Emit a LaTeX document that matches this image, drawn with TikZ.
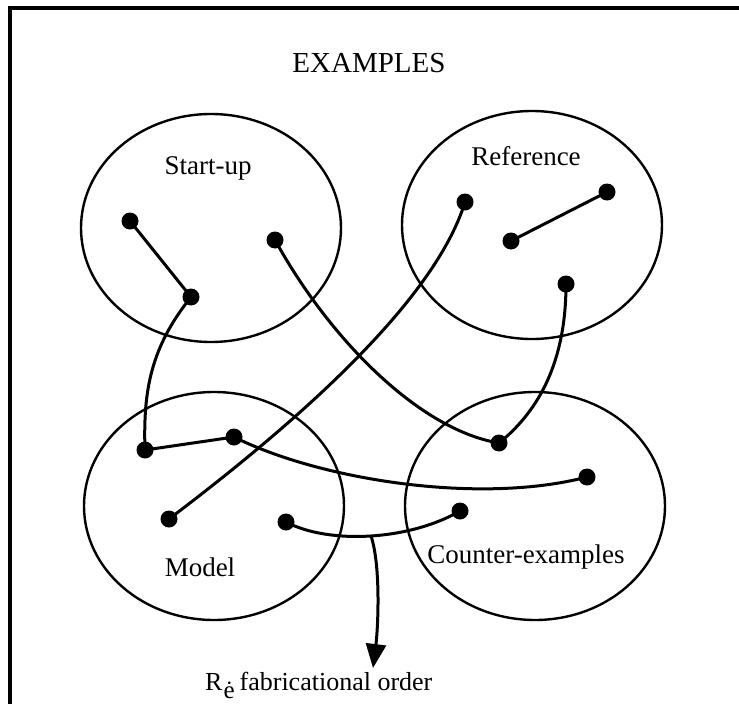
\documentclass[tikz,border=0pt]{standalone}
\usepackage{fontspec}
\setmainfont{Liberation Serif}
\usetikzlibrary{arrows.meta,shapes.geometric}

\begin{document}
\begin{tikzpicture}[x=1pt,y=-1pt,
  set/.style={draw,line width=2.4pt,ellipse,minimum width=260pt,minimum height=228pt,inner sep=0pt},
  dot/.style={circle,fill=black,inner sep=0pt,minimum size=17pt},
  link/.style={line width=3pt},
  lbl/.style={anchor=base,inner sep=0pt,font=\fontsize{27}{30}\selectfont},
  frame/.style={line width=3.2pt}]
\useasboundingbox (0,0) rectangle (739,704);

% frame (top and left edges)
\coordinate (f1) at (10,704);
\coordinate (f2) at (10,8);
\coordinate (f3) at (739,8);
\draw[frame] (f1) -- (f2) -- (f3);

% title
\node[lbl,font=\fontsize{29}{32}\selectfont] (title) at (369,72) {EXAMPLES};

% the four sets
\node[set] (start) at (211,228) {};
\node[set] (ref)   at (532,225) {};
\node[set] (model) at (214,506) {};
\node[set] (cex)   at (535,506) {};

\node[lbl] (lstart) at (208,174) {Start-up};
\node[lbl] (lref)   at (526,165) {Reference};
\node[lbl] (lmodel) at (200,576) {Model};
\node[lbl] (lcex)   at (526,563) {Counter-examples};

% elements
\node[dot] (a1) at (130,221) {};
\node[dot] (a2) at (191,297) {};
\node[dot] (a3) at (275,240) {};
\node[dot] (b1) at (465,202) {};
\node[dot] (b2) at (607,192) {};
\node[dot] (b3) at (511,241) {};
\node[dot] (b4) at (566,284) {};
\node[dot] (c1) at (145,450) {};
\node[dot] (c2) at (234,437) {};
\node[dot] (c3) at (169,519) {};
\node[dot] (c4) at (286,522) {};
\node[dot] (d1) at (499,443) {};
\node[dot] (d2) at (587,477) {};
\node[dot] (d3) at (460,511) {};

% relations
\draw[link] (a1.center) -- (a2.center);
\draw[link] (b3.center) -- (b2.center);
\draw[link] (c1.center) -- (c2.center);
\draw[link] (a2.center) .. controls +(-40,50) and +(-2,-60) .. (c1.center);
\draw[link] (c2.center) .. controls +(86,43) and +(-107,28) .. (d2.center);
\draw[link] (a3.center) .. controls +(55,100) and +(-79,-13) .. (d1.center);
\draw[link] (b4.center) .. controls +(0,76) and +(41,-33) .. (d1.center);
\draw[link] (b1.center) .. controls +(-30,98) and +(131,-99) .. (c3.center);
\draw[link] (c4.center) .. controls +(44,23) and +(-50,29) .. (d3.center);

% order arrow
\coordinate (br) at (371,536);
\coordinate (tip) at (373,668);
\draw[link,-{Triangle[length=24pt,width=20pt]}] (br) .. controls +(10,30) and +(5,-40) .. (tip);

\node[anchor=base west,inner sep=0pt,font=\fontsize{26}{30}\selectfont] (legend) at (205,690)
  {R\kern1pt\raisebox{-8pt}{\fontsize{25}{25}\selectfont ė}\kern5pt fabricational order};
\end{tikzpicture}
\end{document}
